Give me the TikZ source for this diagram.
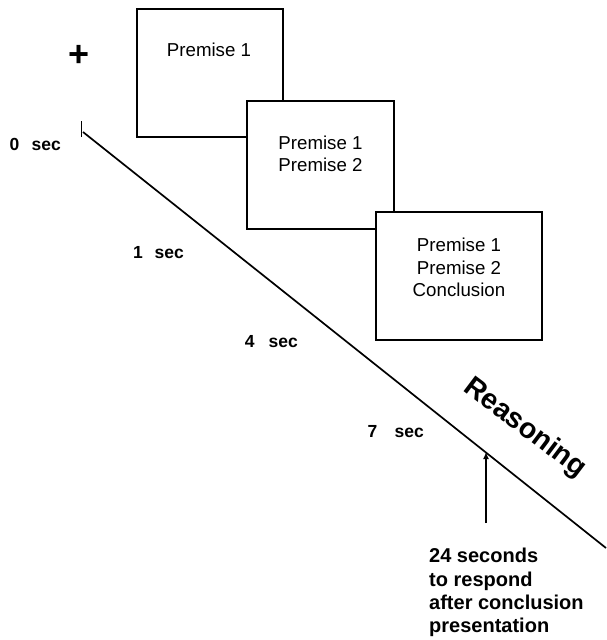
\documentclass[tikz,border=0pt]{standalone}
\usepackage{fontspec}
\setmainfont{Liberation Sans}
\usetikzlibrary{arrows.meta}
\begin{document}
\begin{tikzpicture}[x=1pt,y=-1pt,
  box/.style={draw, line width=1.8pt, fill=white, inner sep=0pt},
  lbl/.style={font=\fontsize{18.7}{22.5}\selectfont, align=center, inner sep=0pt},
  seclbl/.style={font=\fontsize{17.5}{21}\selectfont\bfseries, anchor=base west, inner sep=0pt},
  note/.style={font=\fontsize{20}{23.3}\selectfont\bfseries, align=left, anchor=north west, inner sep=0pt},
  timeline/.style={line width=1.7pt}]
\useasboundingbox (0,0) rectangle (606,640);
% boxes
\node[box, minimum width=146pt, minimum height=128pt] (b1) at (210,73) {};
\node[box, minimum width=147pt, minimum height=128pt] (b2) at (320.5,165) {};
\node[box, minimum width=166pt, minimum height=128pt] (b3) at (459,276) {};
\node[lbl] (t1) at (209,50) {Premise 1};
\node[lbl] (t2) at (320.5,154) {Premise 1\\Premise 2};
\node[lbl] (t3) at (459,267.5) {Premise 1\\Premise 2\\Conclusion};
% fixation cross
\node[font=\fontsize{36}{36}\selectfont\bfseries, inner sep=0pt] (plus) at (79,56) {+};
% timeline
\coordinate (tickTop) at (81.5,121);
\coordinate (tickBot) at (81.5,137);
\coordinate (tStart) at (83,132);
\coordinate (tEnd) at (606,548);
\draw[timeline] (tickTop) -- (tickBot);
\draw[timeline] (tStart) -- (tEnd);
% time labels
\node[seclbl] (s0) at (9.3,150) {0\hspace{12.5pt}sec};
\node[seclbl] (s1) at (133,258) {1\hspace{11.8pt}sec};
\node[seclbl] (s4) at (244.7,347) {4\hspace{14pt}sec};
\node[seclbl] (s7) at (367.3,437) {7\hspace{17.5pt}sec};
% Reasoning
\node[font=\fontsize{28.5}{28.5}\selectfont\bfseries, rotate=-37, anchor=base west, inner sep=0pt] (reason) at (462,390) {Reasoning};
% response arrow
\coordinate (arTail) at (486,523);
\coordinate (arHead) at (486,452);
\draw[timeline, -{Latex[length=7pt,width=6pt]}] (arTail) -- (arHead);
\node[note] (resp) at (429,548) {24 seconds\\to respond\\after conclusion\\presentation};
\end{tikzpicture}
\end{document}
